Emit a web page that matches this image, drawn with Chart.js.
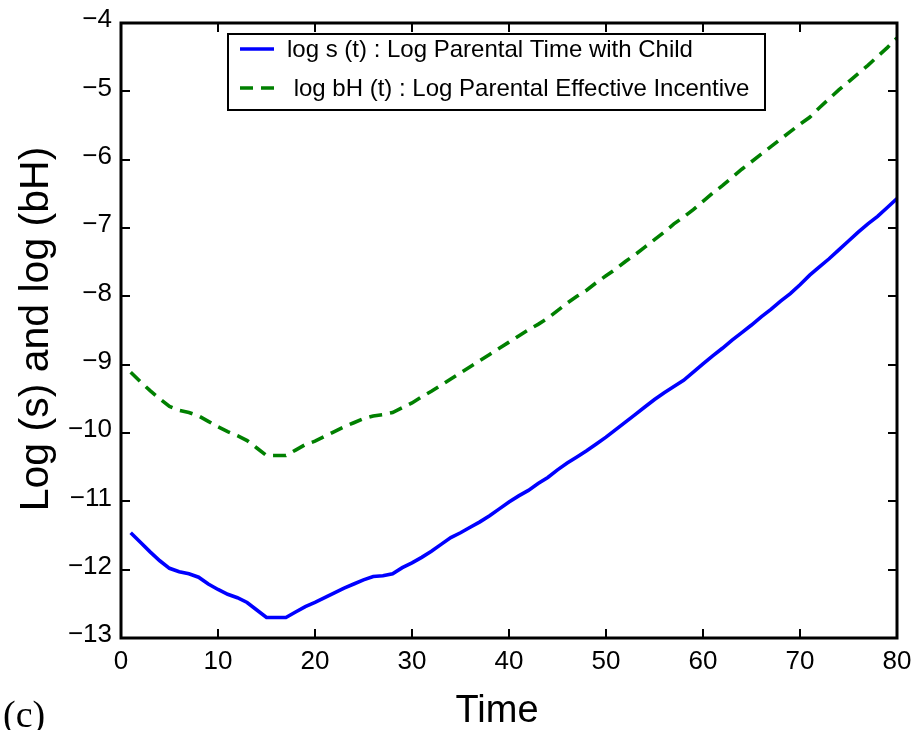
<!DOCTYPE html>
<html><head><meta charset="utf-8">
<script src="https://cdn.jsdelivr.net/npm/chart.js@4.4.0/dist/chart.umd.min.js"></script>
<style>html,body{margin:0;padding:0;background:#fff;} canvas{display:block;}</style>
</head><body>
<canvas id="c" width="911" height="730"></canvas>
<script>
const timeVals = [1,2,3,4,5,6,7,8,9,10,11,12,13,14,15,16,17,18,19,20,
  21,22,23,24,25,26,27,28,29,30,31,32,33,34,35,36,37,38,39,40,
  41,42,43,44,45,46,47,48,49,50,51,52,53,54,55,56,57,58,59,60,
  61,62,63,64,65,66,67,68,69,70,71,72,73,74,75,76,77,78,79,80];
const logS = [-11.46,-11.60,-11.74,-11.87,-11.98,-12.03,-12.06,-12.11,-12.21,-12.29,
  -12.36,-12.41,-12.48,-12.59,-12.70,-12.70,-12.70,-12.62,-12.54,-12.48,
  -12.41,-12.34,-12.27,-12.21,-12.15,-12.10,-12.09,-12.06,-11.97,-11.90,
  -11.82,-11.73,-11.63,-11.53,-11.46,-11.38,-11.30,-11.21,-11.11,-11.01,
  -10.92,-10.84,-10.74,-10.65,-10.54,-10.44,-10.35,-10.26,-10.16,-10.06,
  -9.95,-9.84,-9.73,-9.62,-9.51,-9.41,-9.32,-9.23,-9.11,-8.99,
  -8.87,-8.76,-8.64,-8.53,-8.42,-8.30,-8.19,-8.07,-7.96,-7.83,
  -7.69,-7.57,-7.45,-7.32,-7.19,-7.06,-6.94,-6.83,-6.70,-6.57];
const logBH = [-9.11,-9.25,-9.38,-9.50,-9.61,-9.67,-9.70,-9.75,-9.83,-9.91,
  -9.98,-10.04,-10.11,-10.22,-10.33,-10.33,-10.33,-10.25,-10.17,-10.12,
  -10.05,-9.98,-9.91,-9.85,-9.79,-9.75,-9.73,-9.70,-9.63,-9.56,
  -9.47,-9.39,-9.30,-9.21,-9.12,-9.03,-8.94,-8.85,-8.76,-8.67,
  -8.58,-8.49,-8.41,-8.32,-8.21,-8.10,-8.00,-7.91,-7.80,-7.70,
  -7.60,-7.49,-7.39,-7.28,-7.17,-7.06,-6.94,-6.84,-6.73,-6.61,
  -6.49,-6.38,-6.26,-6.14,-6.03,-5.92,-5.81,-5.70,-5.59,-5.48,
  -5.38,-5.24,-5.11,-4.98,-4.86,-4.74,-4.62,-4.49,-4.36,-4.22];
const xTicks = [0,10,20,30,40,50,60,70,80];
const yTicks = [-13,-12,-11,-10,-9,-8,-7,-6,-5,-4];
const seriesLabels = ['log s (t) : Log Parental Time with Child', ' log bH (t) : Log Parental Effective Incentive'];
const xTitle = 'Time';
const yTitle = 'Log (s) and log (bH)';
const panelLabel = '(c)';

const SANS = '"Liberation Sans", Arial, Helvetica, sans-serif';
const SERIF = '"Liberation Serif", "Times New Roman", serif';
const fmt = v => (v < 0 ? '\u2212' + Math.abs(v) : String(v));
const pts = arr => timeVals.map((t, i) => ({x: t, y: arr[i]}));

const decor = {
  id: 'decor',
  afterDatasetsDraw(chart) {
    const {ctx, chartArea: a, scales: {x, y}} = chart;
    ctx.save();
    ctx.strokeStyle = '#000';
    ctx.lineWidth = 2;
    ctx.beginPath();
    xTicks.forEach(v => {
      const px = Math.round(x.getPixelForValue(v));
      ctx.moveTo(px, a.bottom); ctx.lineTo(px, a.bottom - 9);
      ctx.moveTo(px, a.top); ctx.lineTo(px, a.top + 9);
    });
    yTicks.forEach(v => {
      const py = Math.round(y.getPixelForValue(v));
      ctx.moveTo(a.left, py); ctx.lineTo(a.left + 9, py);
      ctx.moveTo(a.right, py); ctx.lineTo(a.right - 9, py);
    });
    ctx.stroke();
    ctx.lineWidth = 3;
    ctx.strokeRect(a.left, a.top, a.right - a.left, a.bottom - a.top);

    // legend box
    const lx = a.left + 107, ly = a.top + 11, lw = 537, lh = 76;
    ctx.fillStyle = '#fff';
    ctx.fillRect(lx, ly, lw, lh);
    ctx.lineWidth = 2;
    ctx.strokeRect(lx, ly, lw, lh);
    const ds = chart.data.datasets;
    const rows = [ly + 15, ly + 54];
    ds.forEach((d, i) => {
      ctx.beginPath();
      ctx.strokeStyle = d.borderColor;
      ctx.lineWidth = 3.5;
      ctx.setLineDash(d.borderDash || []);
      ctx.moveTo(lx + 12, rows[i]); ctx.lineTo(lx + 46, rows[i]);
      ctx.stroke();
      ctx.setLineDash([]);
      ctx.fillStyle = '#000';
      ctx.font = '24px ' + SANS;
      ctx.textBaseline = 'middle';
      ctx.textAlign = 'left';
      ctx.fillText(d.label, lx + 59, rows[i] + 1);
    });
    ctx.restore();
  },
  afterDraw(chart) {
    const {ctx} = chart;
    ctx.save();
    ctx.fillStyle = '#000';
    ctx.textAlign = 'center';
    ctx.textBaseline = 'alphabetic';
    ctx.font = '38px ' + SANS;
    ctx.fillText(xTitle, 497, 722);
    ctx.font = '41px ' + SANS;
    ctx.translate(48, 329);
    ctx.rotate(-Math.PI / 2);
    ctx.fillText(yTitle, 0, 0);
    ctx.restore();
    ctx.save();
    ctx.fillStyle = '#000';
    ctx.font = '38px ' + SERIF;
    ctx.textAlign = 'left';
    ctx.textBaseline = 'alphabetic';
    ctx.fillText(panelLabel, 3, 727);
    ctx.restore();
  }
};

new Chart(document.getElementById('c'), {
  type: 'line',
  data: {
    datasets: [
      {label: seriesLabels[0], data: pts(logS), borderColor: '#0000ff', borderWidth: 3.6, pointRadius: 0, tension: 0, fill: false},
      {label: seriesLabels[1], data: pts(logBH), borderColor: '#008000', borderWidth: 3.6, borderDash: [13, 8], pointRadius: 0, tension: 0, fill: false}
    ]
  },
  options: {
    responsive: false,
    animation: false,
    layout: {padding: {left: 0, right: 14, top: 23, bottom: 0}},
    plugins: {legend: {display: false}, tooltip: {enabled: false}},
    scales: {
      x: {
        type: 'linear', min: 0, max: 80,
        afterBuildTicks: s => { s.ticks = xTicks.map(v => ({value: v})); },
        afterFit: s => { s.height = 92; s.paddingLeft = 0; s.paddingRight = 0; },
        grid: {display: false, drawTicks: false},
        border: {display: false},
        ticks: {font: {family: SANS, size: 26}, color: '#000', padding: 8, maxRotation: 0, autoSkip: false, callback: v => fmt(v)}
      },
      y: {
        type: 'linear', min: -13, max: -4,
        afterBuildTicks: s => { s.ticks = yTicks.map(v => ({value: v})); },
        afterFit: s => { s.width = 121; s.paddingTop = 0; s.paddingBottom = 0; },
        grid: {display: false, drawTicks: false},
        border: {display: false},
        ticks: {font: {family: SANS, size: 26}, color: '#000', padding: 9, autoSkip: false, labelOffset: -3, callback: v => fmt(v)}
      }
    }
  },
  plugins: [decor]
});
</script>
</body></html>
